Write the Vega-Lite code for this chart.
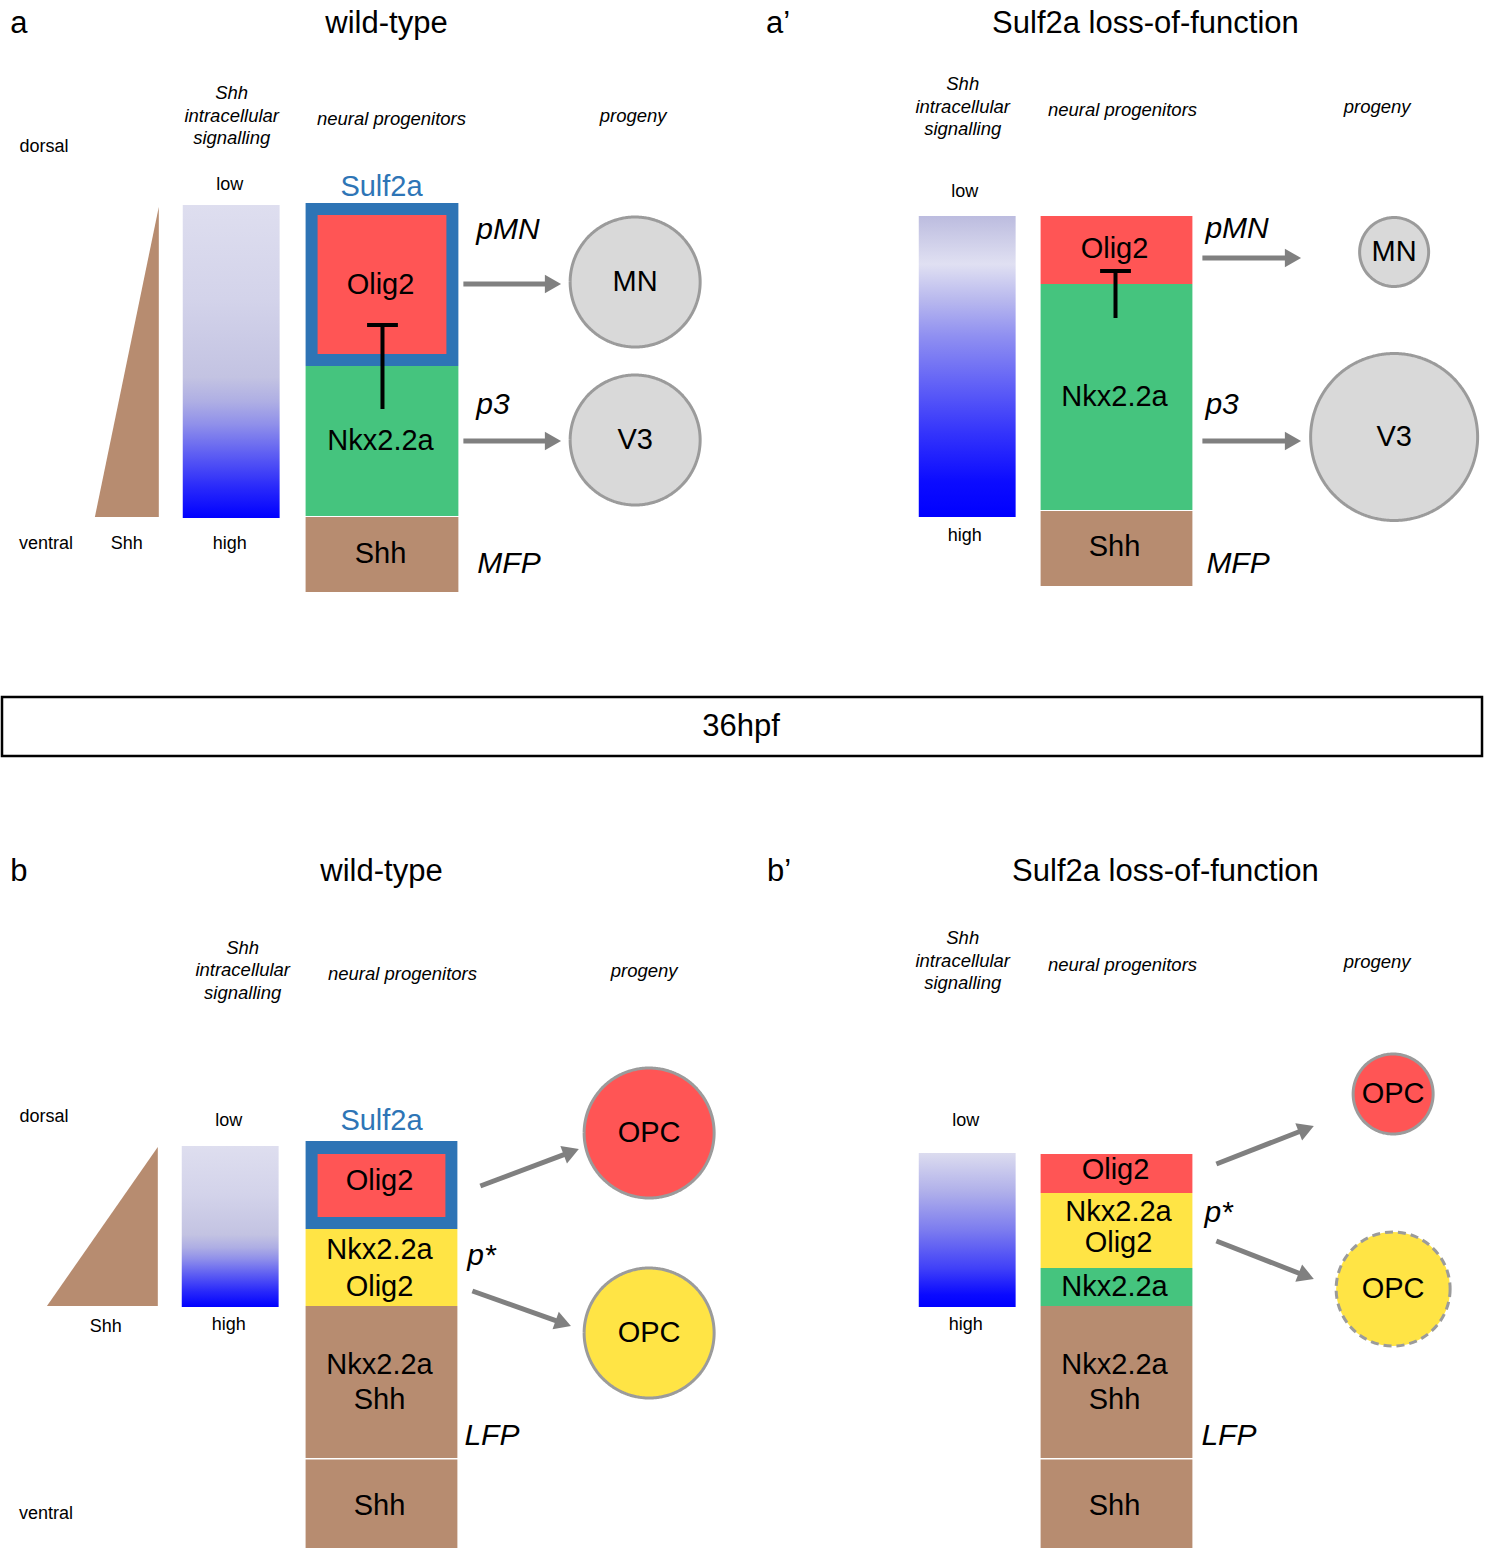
{
  "$schema": "https://vega.github.io/schema/vega-lite/v6.json",
  "width": 1491,
  "height": 1548,
  "autosize": {"type": "fit", "contains": "padding"},
  "padding": 0,
  "background": "white",
  "config": {"view": {"stroke": null}, "font": "Liberation Sans"},
  "resolve": {"scale": {"fill": "independent", "strokeDash": "independent", "size": "independent"}},
  "datasets": {
    "triangles": [
      {"id": "a", "x": 93, "y": 517, "y2": 517},
      {"id": "a", "x": 157, "y": 207, "y2": 517},
      {"id": "b", "x": 45, "y": 1306, "y2": 1306},
      {"id": "b", "x": 156, "y": 1147, "y2": 1306}
    ],
    "gradWT": [
      {"panel": "a", "x": 181, "x2": 278, "y": 205, "y2": 518},
      {"panel": "b", "x": 180, "x2": 277, "y": 1146, "y2": 1307}
    ],
    "gradA2": [{"panel": "a'", "x": 918, "x2": 1015, "y": 216, "y2": 517}],
    "gradB2": [{"panel": "b'", "x": 918, "x2": 1015, "y": 1153, "y2": 1307}],
    "blocks": [
      {"panel": "a", "gene": "Sulf2a", "x": 304, "x2": 457, "y": 203, "y2": 366},
      {"panel": "a", "gene": "Olig2", "x": 316, "x2": 445, "y": 215, "y2": 354},
      {"panel": "a", "gene": "Nkx2.2a", "x": 304, "x2": 457, "y": 366, "y2": 516},
      {"panel": "a", "gene": "Shh", "x": 304, "x2": 457, "y": 517, "y2": 592},
      {"panel": "a'", "gene": "Olig2", "x": 1040, "x2": 1192, "y": 216, "y2": 284},
      {"panel": "a'", "gene": "Nkx2.2a", "x": 1040, "x2": 1192, "y": 284, "y2": 510},
      {"panel": "a'", "gene": "Shh", "x": 1040, "x2": 1192, "y": 511, "y2": 586},
      {"panel": "b", "gene": "Sulf2a", "x": 304, "x2": 456, "y": 1141, "y2": 1229},
      {"panel": "b", "gene": "Olig2", "x": 316, "x2": 444, "y": 1154, "y2": 1217},
      {"panel": "b", "gene": "Nkx2.2a+Olig2", "x": 304, "x2": 456, "y": 1229, "y2": 1306},
      {"panel": "b", "gene": "Nkx2.2a+Shh", "x": 304, "x2": 456, "y": 1306, "y2": 1458},
      {"panel": "b", "gene": "Shh", "x": 304, "x2": 456, "y": 1459.5, "y2": 1548},
      {"panel": "b'", "gene": "Olig2", "x": 1040, "x2": 1192, "y": 1154, "y2": 1193},
      {"panel": "b'", "gene": "Nkx2.2a+Olig2", "x": 1040, "x2": 1192, "y": 1193, "y2": 1268},
      {"panel": "b'", "gene": "Nkx2.2a", "x": 1040, "x2": 1192, "y": 1268, "y2": 1306},
      {"panel": "b'", "gene": "Nkx2.2a+Shh", "x": 1040, "x2": 1192, "y": 1306, "y2": 1458},
      {"panel": "b'", "gene": "Shh", "x": 1040, "x2": 1192, "y": 1459.5, "y2": 1548}
    ],
    "inhibition": [
      {"panel": "a", "x": 381, "y": 409, "y2": 325},
      {"panel": "a'", "x": 1115, "y": 318, "y2": 271}
    ],
    "arrows": [
      {"panel": "a", "x": 462, "y": 284, "x2": 546, "y2": 284, "hx": 549, "hy": 284, "angle": 90},
      {"panel": "a", "x": 462, "y": 441, "x2": 546, "y2": 441, "hx": 549, "hy": 441, "angle": 90},
      {"panel": "a'", "x": 1202, "y": 258, "x2": 1287, "y2": 258, "hx": 1290, "hy": 258, "angle": 90},
      {"panel": "a'", "x": 1202, "y": 441, "x2": 1287, "y2": 441, "hx": 1290, "hy": 441, "angle": 90},
      {"panel": "b", "x": 479, "y": 1186, "x2": 564.7, "y2": 1153.9, "hx": 567.5, "hy": 1152.8, "angle": 69.4},
      {"panel": "b", "x": 471, "y": 1291, "x2": 556.6, "y2": 1321.3, "hx": 559.5, "hy": 1322.3, "angle": 109.5},
      {"panel": "b'", "x": 1216, "y": 1164, "x2": 1300.7, "y2": 1131, "hx": 1303.5, "hy": 1129.9, "angle": 68.7},
      {"panel": "b'", "x": 1216, "y": 1241, "x2": 1300.7, "y2": 1274, "hx": 1303.5, "hy": 1275.1, "angle": 111.3}
    ],
    "cells": [
      {"panel": "a", "label": "MN", "x": 634, "y": 282, "d": 130, "kind": "neuron", "outline": "solid"},
      {"panel": "a", "label": "V3", "x": 634, "y": 440, "d": 130, "kind": "neuron", "outline": "solid"},
      {"panel": "a'", "label": "MN", "x": 1394, "y": 252, "d": 69, "kind": "neuron", "outline": "solid"},
      {"panel": "a'", "label": "V3", "x": 1394, "y": 437, "d": 167, "kind": "neuron", "outline": "solid"},
      {"panel": "b", "label": "OPC", "x": 648, "y": 1133, "d": 130, "kind": "OPC Olig2", "outline": "solid"},
      {"panel": "b", "label": "OPC", "x": 648, "y": 1333, "d": 130, "kind": "OPC Nkx2.2a Olig2", "outline": "solid"},
      {"panel": "b'", "label": "OPC", "x": 1393, "y": 1094, "d": 80, "kind": "OPC Olig2", "outline": "solid"},
      {"panel": "b'", "label": "OPC", "x": 1393, "y": 1289, "d": 114, "kind": "OPC Nkx2.2a Olig2", "outline": "dashed"}
    ],
    "frame": [{"label": "36hpf", "x": 0, "x2": 1482, "y": 697, "y2": 756}],
    "labels": [
      {"kind": "title", "text": "a", "x": 17, "y": 24},
      {"kind": "title", "text": "wild-type", "x": 385, "y": 24},
      {"kind": "title", "text": "a’", "x": 777, "y": 24},
      {"kind": "title", "text": "Sulf2a loss-of-function", "x": 1145, "y": 24},
      {"kind": "title", "text": "36hpf", "x": 740, "y": 727},
      {"kind": "title", "text": "b", "x": 17, "y": 872},
      {"kind": "title", "text": "wild-type", "x": 380, "y": 872},
      {"kind": "title", "text": "b’", "x": 778, "y": 872},
      {"kind": "title", "text": "Sulf2a loss-of-function", "x": 1165, "y": 872},
      {"kind": "small", "text": "dorsal", "x": 42, "y": 147},
      {"kind": "small", "text": "low", "x": 228, "y": 185},
      {"kind": "small", "text": "ventral", "x": 44, "y": 544},
      {"kind": "small", "text": "Shh", "x": 125, "y": 544},
      {"kind": "small", "text": "high", "x": 228, "y": 544},
      {"kind": "small", "text": "low", "x": 964, "y": 192},
      {"kind": "small", "text": "high", "x": 964, "y": 536},
      {"kind": "small", "text": "dorsal", "x": 42, "y": 1117},
      {"kind": "small", "text": "low", "x": 227, "y": 1121},
      {"kind": "small", "text": "Shh", "x": 104, "y": 1327},
      {"kind": "small", "text": "high", "x": 227, "y": 1325},
      {"kind": "small", "text": "ventral", "x": 44, "y": 1514},
      {"kind": "small", "text": "low", "x": 965, "y": 1121},
      {"kind": "small", "text": "high", "x": 965, "y": 1325},
      {"kind": "header", "text": "Shh", "x": 230, "y": 93},
      {"kind": "header", "text": "intracellular", "x": 230, "y": 116},
      {"kind": "header", "text": "signalling", "x": 230, "y": 138},
      {"kind": "header", "text": "neural progenitors", "x": 390, "y": 119},
      {"kind": "header", "text": "progeny", "x": 632, "y": 116},
      {"kind": "header", "text": "Shh", "x": 962, "y": 84},
      {"kind": "header", "text": "intracellular", "x": 962, "y": 107},
      {"kind": "header", "text": "signalling", "x": 962, "y": 129},
      {"kind": "header", "text": "neural progenitors", "x": 1122, "y": 110},
      {"kind": "header", "text": "progeny", "x": 1377, "y": 107},
      {"kind": "header", "text": "Shh", "x": 241, "y": 948},
      {"kind": "header", "text": "intracellular", "x": 241, "y": 970},
      {"kind": "header", "text": "signalling", "x": 241, "y": 993},
      {"kind": "header", "text": "neural progenitors", "x": 401, "y": 974},
      {"kind": "header", "text": "progeny", "x": 643, "y": 971},
      {"kind": "header", "text": "Shh", "x": 962, "y": 938},
      {"kind": "header", "text": "intracellular", "x": 962, "y": 961},
      {"kind": "header", "text": "signalling", "x": 962, "y": 983},
      {"kind": "header", "text": "neural progenitors", "x": 1122, "y": 965},
      {"kind": "header", "text": "progeny", "x": 1377, "y": 962},
      {"kind": "sulf", "text": "Sulf2a", "x": 380, "y": 187},
      {"kind": "sulf", "text": "Sulf2a", "x": 380, "y": 1121},
      {"kind": "gene", "text": "Olig2", "x": 379, "y": 285},
      {"kind": "gene", "text": "Nkx2.2a", "x": 379, "y": 441},
      {"kind": "gene", "text": "Shh", "x": 379, "y": 554},
      {"kind": "gene", "text": "Olig2", "x": 1114, "y": 249},
      {"kind": "gene", "text": "Nkx2.2a", "x": 1114, "y": 397},
      {"kind": "gene", "text": "Shh", "x": 1114, "y": 547},
      {"kind": "gene", "text": "Olig2", "x": 378, "y": 1181},
      {"kind": "gene", "text": "Nkx2.2a", "x": 378, "y": 1250},
      {"kind": "gene", "text": "Olig2", "x": 378, "y": 1287},
      {"kind": "gene", "text": "Nkx2.2a", "x": 378, "y": 1365},
      {"kind": "gene", "text": "Shh", "x": 378, "y": 1400},
      {"kind": "gene", "text": "Shh", "x": 378, "y": 1506},
      {"kind": "gene", "text": "Olig2", "x": 1115, "y": 1170},
      {"kind": "gene", "text": "Nkx2.2a", "x": 1118, "y": 1212},
      {"kind": "gene", "text": "Olig2", "x": 1118, "y": 1243},
      {"kind": "gene", "text": "Nkx2.2a", "x": 1114, "y": 1287},
      {"kind": "gene", "text": "Nkx2.2a", "x": 1114, "y": 1365},
      {"kind": "gene", "text": "Shh", "x": 1114, "y": 1400},
      {"kind": "gene", "text": "Shh", "x": 1114, "y": 1506},
      {"kind": "zone", "text": "pMN", "x": 475, "y": 230},
      {"kind": "zone", "text": "p3", "x": 475, "y": 405},
      {"kind": "zone", "text": "MFP", "x": 476, "y": 564},
      {"kind": "zone", "text": "pMN", "x": 1205, "y": 229},
      {"kind": "zone", "text": "p3", "x": 1205, "y": 405},
      {"kind": "zone", "text": "MFP", "x": 1206, "y": 564},
      {"kind": "zone", "text": "p*", "x": 466, "y": 1256},
      {"kind": "zone", "text": "LFP", "x": 463, "y": 1436},
      {"kind": "zone", "text": "p*", "x": 1204, "y": 1213},
      {"kind": "zone", "text": "LFP", "x": 1201, "y": 1436}
    ]
  },
  "layer": [
    {
      "data": {"name": "triangles"},
      "mark": {"type": "area", "color": "#b78c70", "orient": "vertical"},
      "encoding": {
        "x": {"field": "x", "type": "quantitative", "scale": {"domain": [0, 1491], "nice": false, "zero": false}, "axis": null},
        "y": {"field": "y", "type": "quantitative", "stack": null, "scale": {"domain": [0, 1548], "nice": false, "zero": false, "reverse": true}, "axis": null},
        "y2": {"field": "y2"},
        "detail": {"field": "id", "type": "nominal"}
      }
    },
    {
      "data": {"name": "gradWT"},
      "mark": {"type": "rect", "color": {"gradient": "linear", "x1": 0, "y1": 0, "x2": 0, "y2": 1, "stops": [
        {"offset": 0, "color": "#dedeef"},
        {"offset": 0.3, "color": "#d3d3ea"},
        {"offset": 0.55, "color": "#c3c3e2"},
        {"offset": 0.63, "color": "#aeaee4"},
        {"offset": 0.7, "color": "#9090ea"},
        {"offset": 0.8, "color": "#5c5cf3"},
        {"offset": 0.9, "color": "#2a2afa"},
        {"offset": 1, "color": "#0000ff"}]}},
      "encoding": {
        "x": {"field": "x", "type": "quantitative", "scale": {"domain": [0, 1491], "nice": false, "zero": false}, "axis": null},
        "x2": {"field": "x2"},
        "y": {"field": "y", "type": "quantitative", "scale": {"domain": [0, 1548], "nice": false, "zero": false, "reverse": true}, "axis": null},
        "y2": {"field": "y2"}
      }
    },
    {
      "data": {"name": "gradA2"},
      "mark": {"type": "rect", "color": {"gradient": "linear", "x1": 0, "y1": 0, "x2": 0, "y2": 1, "stops": [
        {"offset": 0, "color": "#bcbcdf"},
        {"offset": 0.16, "color": "#e0e0f2"},
        {"offset": 0.28, "color": "#b8b8ee"},
        {"offset": 0.4, "color": "#8f8ff1"},
        {"offset": 0.55, "color": "#6464f6"},
        {"offset": 0.72, "color": "#3434fb"},
        {"offset": 0.88, "color": "#0c0cff"},
        {"offset": 1, "color": "#0000ff"}]}},
      "encoding": {
        "x": {"field": "x", "type": "quantitative", "scale": {"domain": [0, 1491], "nice": false, "zero": false}, "axis": null},
        "x2": {"field": "x2"},
        "y": {"field": "y", "type": "quantitative", "scale": {"domain": [0, 1548], "nice": false, "zero": false, "reverse": true}, "axis": null},
        "y2": {"field": "y2"}
      }
    },
    {
      "data": {"name": "gradB2"},
      "mark": {"type": "rect", "color": {"gradient": "linear", "x1": 0, "y1": 0, "x2": 0, "y2": 1, "stops": [
        {"offset": 0, "color": "#dcdcef"},
        {"offset": 0.25, "color": "#b0b0ea"},
        {"offset": 0.5, "color": "#7c7cef"},
        {"offset": 0.75, "color": "#4040f8"},
        {"offset": 0.92, "color": "#0a0aff"},
        {"offset": 1, "color": "#0000ff"}]}},
      "encoding": {
        "x": {"field": "x", "type": "quantitative", "scale": {"domain": [0, 1491], "nice": false, "zero": false}, "axis": null},
        "x2": {"field": "x2"},
        "y": {"field": "y", "type": "quantitative", "scale": {"domain": [0, 1548], "nice": false, "zero": false, "reverse": true}, "axis": null},
        "y2": {"field": "y2"}
      }
    },
    {
      "data": {"name": "blocks"},
      "mark": {"type": "rect", "opacity": 1},
      "encoding": {
        "x": {"field": "x", "type": "quantitative", "scale": {"domain": [0, 1491], "nice": false, "zero": false}, "axis": null},
        "x2": {"field": "x2"},
        "y": {"field": "y", "type": "quantitative", "scale": {"domain": [0, 1548], "nice": false, "zero": false, "reverse": true}, "axis": null},
        "y2": {"field": "y2"},
        "fill": {"field": "gene", "type": "nominal", "legend": null, "scale": {
          "domain": ["Sulf2a", "Olig2", "Nkx2.2a", "Shh", "Nkx2.2a+Olig2", "Nkx2.2a+Shh"],
          "range": ["#2e74b5", "#ff5555", "#45c47e", "#b78c70", "#ffe445", "#b78c70"]}}
      }
    },
    {
      "data": {"name": "inhibition"},
      "mark": {"type": "rule", "color": "black", "strokeWidth": 4},
      "encoding": {
        "x": {"field": "x", "type": "quantitative", "scale": {"domain": [0, 1491], "nice": false, "zero": false}, "axis": null},
        "y": {"field": "y", "type": "quantitative", "scale": {"domain": [0, 1548], "nice": false, "zero": false, "reverse": true}, "axis": null},
        "y2": {"field": "y2"}
      }
    },
    {
      "data": {"name": "inhibition"},
      "mark": {"type": "point", "shape": "stroke", "filled": false, "stroke": "black", "strokeWidth": 4, "size": 950, "opacity": 1},
      "encoding": {
        "x": {"field": "x", "type": "quantitative", "scale": {"domain": [0, 1491], "nice": false, "zero": false}, "axis": null},
        "y": {"field": "y2", "type": "quantitative", "scale": {"domain": [0, 1548], "nice": false, "zero": false, "reverse": true}, "axis": null}
      }
    },
    {
      "data": {"name": "arrows"},
      "mark": {"type": "rule", "color": "#808080", "strokeWidth": 5},
      "encoding": {
        "x": {"field": "x", "type": "quantitative", "scale": {"domain": [0, 1491], "nice": false, "zero": false}, "axis": null},
        "x2": {"field": "x2"},
        "y": {"field": "y", "type": "quantitative", "scale": {"domain": [0, 1548], "nice": false, "zero": false, "reverse": true}, "axis": null},
        "y2": {"field": "y2"}
      }
    },
    {
      "data": {"name": "arrows"},
      "mark": {"type": "point", "shape": "triangle", "filled": true, "color": "#808080", "size": 350, "opacity": 1, "strokeWidth": 0},
      "encoding": {
        "x": {"field": "hx", "type": "quantitative", "scale": {"domain": [0, 1491], "nice": false, "zero": false}, "axis": null},
        "y": {"field": "hy", "type": "quantitative", "scale": {"domain": [0, 1548], "nice": false, "zero": false, "reverse": true}, "axis": null},
        "angle": {"field": "angle", "type": "quantitative", "scale": {"domain": [0, 360], "range": [0, 360]}}
      }
    },
    {
      "data": {"name": "cells"},
      "mark": {"type": "point", "shape": "circle", "filled": true, "opacity": 1, "stroke": "#9b9b9b", "strokeWidth": 3},
      "encoding": {
        "x": {"field": "x", "type": "quantitative", "scale": {"domain": [0, 1491], "nice": false, "zero": false}, "axis": null},
        "y": {"field": "y", "type": "quantitative", "scale": {"domain": [0, 1548], "nice": false, "zero": false, "reverse": true}, "axis": null},
        "size": {"field": "d", "type": "quantitative", "legend": null, "scale": {"type": "pow", "exponent": 2, "domain": [0, 100], "range": [0, 10000]}},
        "fill": {"field": "kind", "type": "nominal", "legend": null, "scale": {"domain": ["neuron", "OPC Olig2", "OPC Nkx2.2a Olig2"], "range": ["#d9d9d9", "#ff5555", "#ffe445"]}},
        "strokeDash": {"field": "outline", "type": "nominal", "legend": null, "scale": {"domain": ["solid", "dashed"], "range": [[1, 0], [8, 5]]}}
      }
    },
    {
      "data": {"name": "cells"},
      "mark": {"type": "text", "fontSize": 29, "color": "black", "align": "center", "baseline": "middle"},
      "encoding": {
        "x": {"field": "x", "type": "quantitative", "scale": {"domain": [0, 1491], "nice": false, "zero": false}, "axis": null},
        "y": {"field": "y", "type": "quantitative", "scale": {"domain": [0, 1548], "nice": false, "zero": false, "reverse": true}, "axis": null},
        "text": {"field": "label"}
      }
    },
    {
      "data": {"name": "frame"},
      "mark": {"type": "rect", "fill": null, "fillOpacity": 0, "stroke": "black", "strokeWidth": 2.5},
      "encoding": {
        "x": {"field": "x", "type": "quantitative", "scale": {"domain": [0, 1491], "nice": false, "zero": false}, "axis": null},
        "x2": {"field": "x2"},
        "y": {"field": "y", "type": "quantitative", "scale": {"domain": [0, 1548], "nice": false, "zero": false, "reverse": true}, "axis": null},
        "y2": {"field": "y2"}
      }
    },
    {
      "data": {"name": "labels"},
      "transform": [{"filter": "datum.kind === 'title'"}],
      "mark": {"type": "text", "fontSize": 31, "color": "black", "align": "center", "baseline": "middle"},
      "encoding": {
        "x": {"field": "x", "type": "quantitative", "scale": {"domain": [0, 1491], "nice": false, "zero": false}, "axis": null},
        "y": {"field": "y", "type": "quantitative", "scale": {"domain": [0, 1548], "nice": false, "zero": false, "reverse": true}, "axis": null},
        "text": {"field": "text"}
      }
    },
    {
      "data": {"name": "labels"},
      "transform": [{"filter": "datum.kind === 'small'"}],
      "mark": {"type": "text", "fontSize": 18, "color": "black", "align": "center", "baseline": "middle"},
      "encoding": {
        "x": {"field": "x", "type": "quantitative", "scale": {"domain": [0, 1491], "nice": false, "zero": false}, "axis": null},
        "y": {"field": "y", "type": "quantitative", "scale": {"domain": [0, 1548], "nice": false, "zero": false, "reverse": true}, "axis": null},
        "text": {"field": "text"}
      }
    },
    {
      "data": {"name": "labels"},
      "transform": [{"filter": "datum.kind === 'header'"}],
      "mark": {"type": "text", "fontSize": 18.5, "fontStyle": "italic", "color": "black", "align": "center", "baseline": "middle"},
      "encoding": {
        "x": {"field": "x", "type": "quantitative", "scale": {"domain": [0, 1491], "nice": false, "zero": false}, "axis": null},
        "y": {"field": "y", "type": "quantitative", "scale": {"domain": [0, 1548], "nice": false, "zero": false, "reverse": true}, "axis": null},
        "text": {"field": "text"}
      }
    },
    {
      "data": {"name": "labels"},
      "transform": [{"filter": "datum.kind === 'sulf'"}],
      "mark": {"type": "text", "fontSize": 29, "color": "#2e75b6", "align": "center", "baseline": "middle"},
      "encoding": {
        "x": {"field": "x", "type": "quantitative", "scale": {"domain": [0, 1491], "nice": false, "zero": false}, "axis": null},
        "y": {"field": "y", "type": "quantitative", "scale": {"domain": [0, 1548], "nice": false, "zero": false, "reverse": true}, "axis": null},
        "text": {"field": "text"}
      }
    },
    {
      "data": {"name": "labels"},
      "transform": [{"filter": "datum.kind === 'gene'"}],
      "mark": {"type": "text", "fontSize": 29, "color": "black", "align": "center", "baseline": "middle"},
      "encoding": {
        "x": {"field": "x", "type": "quantitative", "scale": {"domain": [0, 1491], "nice": false, "zero": false}, "axis": null},
        "y": {"field": "y", "type": "quantitative", "scale": {"domain": [0, 1548], "nice": false, "zero": false, "reverse": true}, "axis": null},
        "text": {"field": "text"}
      }
    },
    {
      "data": {"name": "labels"},
      "transform": [{"filter": "datum.kind === 'zone'"}],
      "mark": {"type": "text", "fontSize": 30, "fontStyle": "italic", "color": "black", "align": "left", "baseline": "middle"},
      "encoding": {
        "x": {"field": "x", "type": "quantitative", "scale": {"domain": [0, 1491], "nice": false, "zero": false}, "axis": null},
        "y": {"field": "y", "type": "quantitative", "scale": {"domain": [0, 1548], "nice": false, "zero": false, "reverse": true}, "axis": null},
        "text": {"field": "text"}
      }
    }
  ]
}
